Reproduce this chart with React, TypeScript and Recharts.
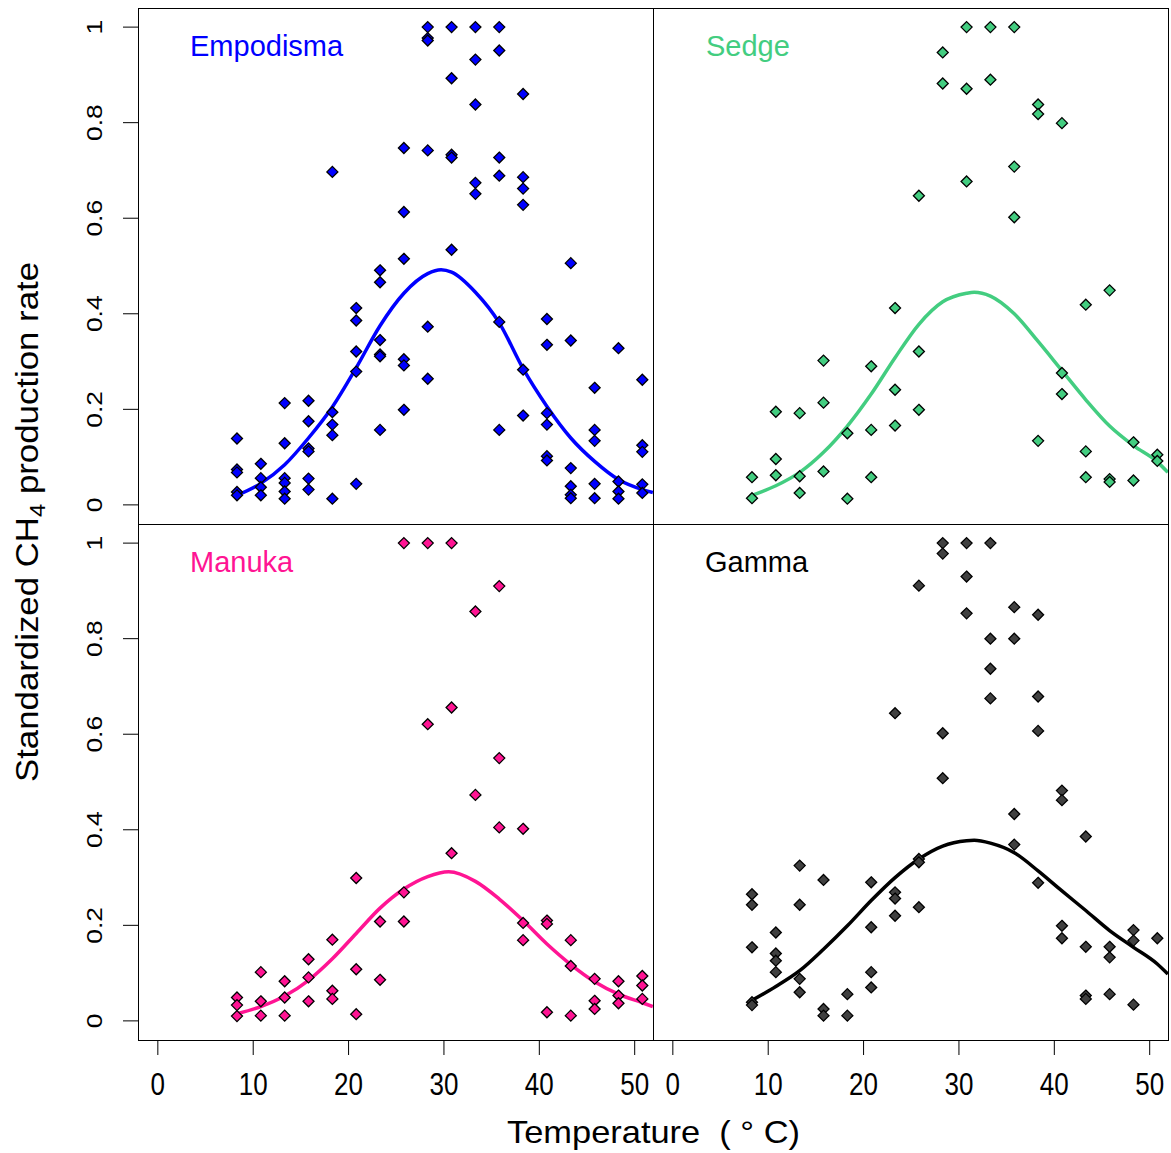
import { ComposedChart, Line, Scatter, XAxis, YAxis } from 'recharts'

// incubation temperatures (deg C), same for every substrate
const TEMPS = [8.3, 10.8, 13.3, 15.8, 18.3, 20.8, 23.3, 25.8, 28.3, 30.8, 33.3, 35.8, 38.3, 40.8, 43.3, 45.8, 48.3, 50.8]
const X_TICKS = [0, 10, 20, 30, 40, 50]
const Y_TICKS = [0, 0.2, 0.4, 0.6, 0.8, 1]

// observed standardized rates, one list per temperature
const empodismaObs = [
  [0.139, 0.074, 0.068, 0.027, 0.02],
  [0.086, 0.056, 0.037, 0.02],
  [0.213, 0.129, 0.056, 0.046, 0.028, 0.013],
  [0.218, 0.175, 0.118, 0.112, 0.055, 0.032],
  [0.697, 0.194, 0.168, 0.146, 0.013],
  [0.412, 0.386, 0.321, 0.279, 0.044],
  [0.491, 0.466, 0.345, 0.315, 0.311, 0.157],
  [0.747, 0.613, 0.515, 0.305, 0.292, 0.199],
  [1.0, 0.977, 0.972, 0.742, 0.373, 0.264],
  [1.0, 0.893, 0.733, 0.727, 0.534],
  [1.0, 0.932, 0.838, 0.674, 0.651],
  [1.0, 0.951, 0.727, 0.689, 0.383, 0.157],
  [0.86, 0.686, 0.662, 0.628, 0.283, 0.187],
  [0.389, 0.335, 0.192, 0.168, 0.102, 0.093],
  [0.506, 0.344, 0.077, 0.039, 0.021, 0.014],
  [0.245, 0.157, 0.134, 0.044, 0.014],
  [0.328, 0.049, 0.028, 0.013],
  [0.262, 0.125, 0.111, 0.043, 0.025],
]
const sedgeObs = [
  [0.058, 0.014],
  [0.195, 0.096, 0.062],
  [0.192, 0.06, 0.025],
  [0.302, 0.214, 0.07],
  [0.15, 0.013],
  [0.29, 0.157, 0.058],
  [0.412, 0.241, 0.166],
  [0.647, 0.321, 0.199],
  [0.947, 0.882],
  [1.0, 0.871, 0.677],
  [1.0, 0.89],
  [1.0, 0.708, 0.602],
  [0.838, 0.818, 0.134],
  [0.799, 0.276, 0.232],
  [0.419, 0.112, 0.058],
  [0.449, 0.054, 0.048],
  [0.131, 0.051],
  [0.105, 0.092],
]
const manukaObs = [
  [0.049, 0.033, 0.01],
  [0.102, 0.041, 0.011],
  [0.083, 0.049, 0.011],
  [0.129, 0.091, 0.041],
  [0.17, 0.063, 0.046],
  [0.299, 0.108, 0.014],
  [0.208, 0.086],
  [1.0, 0.269, 0.208],
  [1.0, 0.621],
  [1.0, 0.656, 0.351],
  [0.857, 0.473],
  [0.91, 0.55, 0.405],
  [0.402, 0.205, 0.169],
  [0.21, 0.203, 0.018],
  [0.169, 0.115, 0.011],
  [0.088, 0.042, 0.025],
  [0.083, 0.053, 0.037],
  [0.094, 0.074, 0.046],
]
const gammaObs = [
  [0.265, 0.243, 0.154, 0.039, 0.033],
  [0.185, 0.141, 0.126, 0.102],
  [0.325, 0.243, 0.088, 0.06],
  [0.295, 0.025, 0.011],
  [0.056, 0.011],
  [0.29, 0.196, 0.102, 0.07],
  [0.644, 0.269, 0.256, 0.22],
  [0.911, 0.339, 0.332, 0.238],
  [1.0, 0.978, 0.602, 0.508],
  [1.0, 0.93, 0.853],
  [1.0, 0.8, 0.737, 0.675],
  [0.866, 0.8, 0.433, 0.369],
  [0.85, 0.679, 0.607, 0.289],
  [0.482, 0.462, 0.199, 0.173],
  [0.386, 0.155, 0.053, 0.046],
  [0.155, 0.133, 0.056],
  [0.19, 0.168, 0.034],
  [0.173],
]

// fitted response curves
const empodismaFitT = [8.3, 10.8, 13.3, 15.8, 18.3, 20.8, 23.3, 25.8, 28.3, 29.7, 30.8, 33.3, 35.8, 38.3, 40.8, 43.3, 45.8, 48.3, 50.8, 51.9]
const empodismaFit = [0.02, 0.045, 0.084, 0.14, 0.205, 0.287, 0.375, 0.443, 0.484, 0.492, 0.487, 0.445, 0.381, 0.285, 0.206, 0.14, 0.091, 0.053, 0.032, 0.026]
const sedgeFitT = [8.3, 10.8, 13.3, 15.8, 18.3, 20.8, 23.3, 25.8, 28.3, 30.8, 31.6, 33.3, 35.8, 38.3, 40.8, 43.3, 45.8, 48.3, 50.8, 51.9]
const sedgeFit = [0.02, 0.04, 0.068, 0.11, 0.165, 0.232, 0.308, 0.378, 0.425, 0.443, 0.445, 0.437, 0.4, 0.342, 0.281, 0.22, 0.165, 0.124, 0.09, 0.068]
const manukaFitT = [8.3, 10.8, 13.3, 15.8, 18.3, 20.8, 23.3, 25.8, 28.3, 30.5, 33.3, 35.8, 38.3, 40.8, 43.3, 45.8, 48.3, 50.8, 51.9]
const manukaFit = [0.015, 0.03, 0.052, 0.085, 0.13, 0.183, 0.236, 0.276, 0.302, 0.312, 0.292, 0.255, 0.21, 0.161, 0.118, 0.082, 0.056, 0.038, 0.03]
const gammaFitT = [8.3, 10.8, 13.3, 15.8, 18.3, 20.8, 23.3, 25.8, 28.3, 30.8, 31.6, 33.3, 35.8, 38.3, 40.8, 43.3, 45.8, 48.3, 50.8, 51.9]
const gammaFit = [0.043, 0.072, 0.105, 0.15, 0.199, 0.252, 0.3, 0.339, 0.366, 0.377, 0.378, 0.372, 0.352, 0.314, 0.272, 0.231, 0.189, 0.154, 0.119, 0.098]

const FONT = '"Liberation Sans", Arial, Helvetica, sans-serif'
const X_DOMAIN: [number, number] = [-2.08, 51.92]
const Y_DOMAIN: [number, number] = [-0.04, 1.04]
const PW = 515
const PH = 516

function Diamond(props: any) {
  const { cx, cy, fill } = props
  if (cx == null || cy == null) return null
  const r = 5.5
  return (
    <polygon
      points={`${cx},${cy - r} ${cx + r},${cy} ${cx},${cy + r} ${cx - r},${cy}`}
      fill={fill}
      stroke="#000"
      strokeWidth={1.3}
    />
  )
}

// R draws the axis numbers a bit taller than wide
function XTick(props: any) {
  const { x, y, payload } = props
  return (
    <text
      transform={`translate(${x} ${y + 38}) scale(1 1.18)`}
      textAnchor="middle"
      fontSize={26}
      fontFamily={FONT}
      fill="#000"
    >
      {payload.value}
    </text>
  )
}

function YTick(props: any) {
  const { x, y, payload } = props
  const bx = x - 19
  return (
    <text
      transform={`translate(${bx} ${y}) rotate(-90) scale(1.2 1)`}
      textAnchor="middle"
      fontSize={22}
      fontFamily={FONT}
      fill="#000"
    >
      {String(payload.value)}
    </text>
  )
}

interface PanelProps {
  left: number
  top: number
  color: string
  fill: string
  obs: number[][]
  fitT: number[]
  fit: number[]
  showX: boolean
  showY: boolean
}

function Panel({ left, top, color, fill, obs, fitT, fit, showX, showY }: PanelProps) {
  const points = TEMPS.flatMap((t, i) => obs[i].map((v) => ({ t, v })))
  const curve = fitT.map((t, i) => ({ t, v: fit[i] }))
  const yw = showY ? 60 : 0
  const xh = showX ? 70 : 0
  return (
    <div style={{ position: 'absolute', left: left - yw, top }}>
      <ComposedChart width={yw + PW} height={PH + xh} margin={{ top: 0, right: 0, bottom: 0, left: 0 }}>
        <XAxis
          dataKey="t"
          type="number"
          domain={X_DOMAIN}
          ticks={X_TICKS}
          interval={0}
          allowDataOverflow
          hide={!showX}
          height={xh}
          tickSize={15}
          axisLine={false}
          tickLine={{ stroke: '#000' }}
          tick={<XTick />}
        />
        <YAxis
          type="number"
          domain={Y_DOMAIN}
          ticks={Y_TICKS}
          interval={0}
          allowDataOverflow
          hide={!showY}
          width={yw}
          tickSize={15}
          axisLine={false}
          tickLine={{ stroke: '#000' }}
          tick={<YTick />}
        />
        <Scatter data={points} dataKey="v" fill={fill} shape={(p: any) => <Diamond {...p} />} isAnimationActive={false} />
        <Line
          data={curve}
          dataKey="v"
          type="monotone"
          stroke={color}
          strokeWidth={3.5}
          dot={false}
          activeDot={false}
          isAnimationActive={false}
        />
      </ComposedChart>
    </div>
  )
}

function Box({ left, top }: { left: number; top: number }) {
  return (
    <div
      style={{
        position: 'absolute',
        left,
        top,
        width: PW + 1,
        height: PH + 1,
        boxSizing: 'border-box',
        border: '1px solid #000',
        pointerEvents: 'none',
      }}
    />
  )
}

export default function App() {
  return (
    <div style={{ position: 'absolute', left: 0, top: 0, width: 1171, height: 1153, background: '#fff' }}>
      <Panel left={138} top={8} color="#0000FF" fill="#0000FF" obs={empodismaObs} fitT={empodismaFitT} fit={empodismaFit} showX={false} showY />
      <Panel left={653} top={8} color="#43CD80" fill="#43CD80" obs={sedgeObs} fitT={sedgeFitT} fit={sedgeFit} showX={false} showY={false} />
      <Panel left={138} top={524} color="#FF1493" fill="#FF1493" obs={manukaObs} fitT={manukaFitT} fit={manukaFit} showX showY />
      <Panel left={653} top={524} color="#000000" fill="#404040" obs={gammaObs} fitT={gammaFitT} fit={gammaFit} showX showY={false} />
      <Box left={138} top={8} />
      <Box left={653} top={8} />
      <Box left={138} top={524} />
      <Box left={653} top={524} />
      <svg width={1171} height={1153} style={{ position: 'absolute', left: 0, top: 0, pointerEvents: 'none' }} fontFamily={FONT}>
        <text x={190} y={56} fontSize={29} fill="#0000FF">Empodisma</text>
        <text x={706} y={56} fontSize={29} fill="#43CD80">Sedge</text>
        <text x={190} y={572} fontSize={29} fill="#FF1493">Manuka</text>
        <text x={705} y={572} fontSize={29} fill="#000">Gamma</text>
        <text
          x={38}
          y={522}
          transform="rotate(-90 38 522)"
          textAnchor="middle"
          fontSize={32}
          fill="#000"
          textLength={520}
          lengthAdjust="spacingAndGlyphs"
        >
          Standardized CH<tspan fontSize={22} dy={7}>4</tspan>
          <tspan dy={-7}> production rate</tspan>
        </text>
        <text
          x={653.5}
          y={1143}
          textAnchor="middle"
          fontSize={32}
          fill="#000"
          textLength={293}
          lengthAdjust="spacingAndGlyphs"
          style={{ whiteSpace: 'pre' }}
        >
          {'Temperature  ( ° C)'}
        </text>
      </svg>
    </div>
  )
}
